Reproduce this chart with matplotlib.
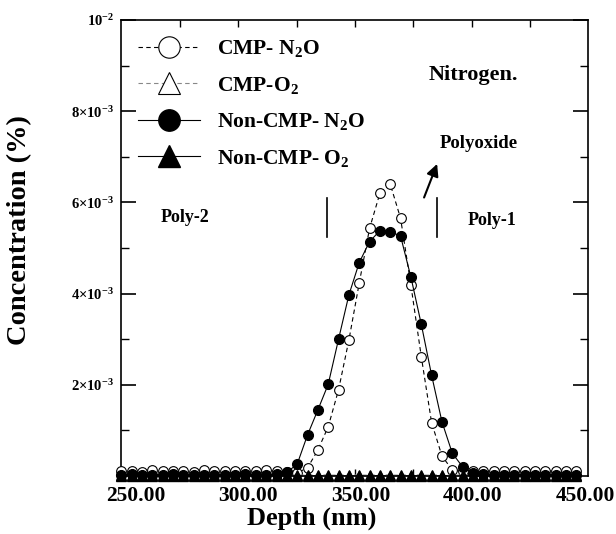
import matplotlib
matplotlib.use('Agg')
import matplotlib.pyplot as plt
import numpy as np

plt.rcParams['font.family'] = ['Liberation Serif', 'DejaVu Serif']
plt.rcParams['font.weight'] = 'bold'
plt.rcParams['mathtext.fontset'] = 'custom'
plt.rcParams['mathtext.rm'] = 'Liberation Serif:bold'
plt.rcParams['mathtext.bf'] = 'Liberation Serif:bold'
plt.rcParams['mathtext.it'] = 'Liberation Serif:bold:italic'

# depth grid (nm)
depth = [243.6, 248.2, 252.8, 257.4, 262.0, 266.6, 271.2, 275.8, 280.4, 285.0,
         289.6, 294.2, 298.8, 303.4, 308.0, 312.6, 317.2, 321.8, 326.4, 331.0,
         335.6, 340.2, 344.8, 349.4, 354.0, 358.6, 363.2, 367.8, 372.4, 377.0,
         381.6, 386.2, 390.8, 395.4, 400.0, 404.6, 409.2, 413.8, 418.4, 423.0,
         427.6, 432.2, 436.8, 441.4, 446.0]

# concentrations in units of 1e-3 %
cmp_n2o = [0.10, 0.12, 0.09, 0.13, 0.10, 0.11, 0.12, 0.09, 0.13, 0.10,
           0.11, 0.12, 0.10, 0.11, 0.13, 0.10, 0.09, 0.07, 0.18, 0.57,
           1.08, 1.89, 2.98, 4.23, 5.43, 6.20, 6.40, 5.65, 4.18, 2.62,
           1.17, 0.44, 0.13, 0.10, 0.11, 0.12, 0.10, 0.11, 0.12, 0.10,
           0.11, 0.12, 0.10, 0.11, 0.12]
cmp_o2 = [0.02, 0.03, 0.02, 0.02, 0.03, 0.02, 0.02, 0.03, 0.02, 0.02,
          0.03, 0.02, 0.02, 0.03, 0.02, 0.02, 0.03, 0.02, 0.02, 0.03,
          0.02, 0.02, 0.03, 0.02, 0.02, 0.03, 0.02, 0.02, 0.03, 0.02,
          0.02, 0.03, 0.02, 0.02, 0.03, 0.02, 0.02, 0.03, 0.02, 0.02,
          0.03, 0.02, 0.02, 0.03, 0.02]
non_cmp_n2o = [0.03, 0.04, 0.03, 0.02, 0.03, 0.04, 0.03, 0.02, 0.03, 0.03,
               0.02, 0.03, 0.04, 0.03, 0.03, 0.04, 0.08, 0.26, 0.90, 1.45,
               2.01, 3.00, 3.97, 4.68, 5.14, 5.38, 5.36, 5.26, 4.36, 3.33,
               2.21, 1.19, 0.50, 0.20, 0.06, 0.04, 0.03, 0.03, 0.02, 0.03,
               0.03, 0.02, 0.03, 0.03, 0.02]
non_cmp_o2 = [0.00, 0.01, 0.00, 0.01, 0.00, 0.01, 0.00, 0.01, 0.00, 0.01,
              0.00, 0.01, 0.00, 0.01, 0.00, 0.01, 0.00, 0.01, 0.00, 0.01,
              0.00, 0.01, 0.00, 0.01, 0.00, 0.01, 0.00, 0.01, 0.00, 0.01,
              0.00, 0.01, 0.00, 0.01, 0.00, 0.01, 0.00, 0.01, 0.00, 0.01,
              0.00, 0.01, 0.00, 0.01, 0.00]

x_ticks = [250, 300, 350, 400, 450]
x_labels = ['250.00', '300.00', '350.00', '400.00', '450.00']
x_minor = [269.5, 295.5, 321.5, 347.5, 373.5, 399.5, 425.5]
y_ticks = [0.002, 0.004, 0.006, 0.008, 0.010]
y_labels = [r'$\mathbf{2{\times}10^{-3}}$', r'$\mathbf{4{\times}10^{-3}}$',
            r'$\mathbf{6{\times}10^{-3}}$', r'$\mathbf{8{\times}10^{-3}}$',
            r'$\mathbf{10^{-2}}$']
y_minor = [0.001, 0.003, 0.005, 0.007, 0.009]

scale = 1e-3

fig = plt.figure(figsize=(6.16, 5.34), dpi=100)
ax = fig.add_axes([0.196, 0.1086, 0.759, 0.854])

ax.plot(depth, np.array(cmp_n2o) * scale, ls=(0, (4, 3)), color='black', lw=0.8,
        marker='o', ms=7, mfc='white', mec='black', mew=0.8,
        label=r'CMP- N$_\mathbf{2}$O', clip_on=False, zorder=3)
ax.plot(depth, np.array(cmp_o2) * scale, ls=(0, (4, 3)), color='#888888', lw=0.8,
        marker='^', ms=7, mfc='white', mec='black', mew=0.8,
        label=r'CMP-O$_\mathbf{2}$', clip_on=False, zorder=3)
ax.plot(depth, np.array(non_cmp_n2o) * scale, ls='-', color='black', lw=0.8,
        marker='o', ms=7, mfc='black', mec='black',
        label=r'Non-CMP- N$_\mathbf{2}$O', clip_on=False, zorder=4)
ax.plot(depth, np.array(non_cmp_o2) * scale, ls='-', color='black', lw=0.8,
        marker='^', ms=7, mfc='black', mec='black',
        label=r'Non-CMP- O$_\mathbf{2}$', clip_on=False, zorder=4)

ax.set_xlim(243.3, 451.3)
ax.set_ylim(0, 0.01)

ax.set_xticks(x_ticks)
ax.set_xticklabels(x_labels, fontsize=15.5, fontweight='bold')
ax.set_xticks(x_minor, minor=True)
ax.tick_params(axis='x', which='major', length=0, pad=7)
ax.tick_params(axis='x', which='minor', direction='in', length=5, width=1,
               top=True, bottom=True)

ax.set_yticks(y_ticks)
ax.set_yticklabels(y_labels, fontsize=10.5)
ax.set_yticks(y_minor, minor=True)
ax.tick_params(axis='y', which='major', direction='in', length=11, width=1.2,
               pad=5, right=True)
ax.tick_params(axis='y', which='minor', direction='in', length=6, width=1,
               right=True)

for s in ax.spines.values():
    s.set_linewidth(1.2)

ax.set_xlabel('Depth (nm)', fontsize=19, fontweight='bold')
ax.xaxis.set_label_coords(0.408, -0.066)
ax.set_ylabel('Concentration (%)', fontsize=20.5, fontweight='bold')
ax.yaxis.set_label_coords(-0.19, 0.54)

ax.legend(loc='upper left', bbox_to_anchor=(0.036, 0.96), frameon=False,
          fontsize=15.5, markerscale=2.2, handlelength=2.9, handletextpad=0.8,
          labelspacing=0.72, borderpad=0, borderaxespad=0)

ax.text(400, 0.0088, 'Nitrogen.', fontsize=16, fontweight='bold',
        ha='center', va='center')
ax.text(402.8, 0.0073, 'Polyoxide', fontsize=13.5, fontweight='bold',
        ha='center', va='center')
ax.text(408.6, 0.00561, 'Poly-1', fontsize=13, fontweight='bold',
        ha='center', va='center')
ax.text(271.8, 0.00566, 'Poly-2', fontsize=13, fontweight='bold',
        ha='center', va='center')
ax.plot([335.1, 335.1], [0.00524, 0.0061], color='black', lw=1.2)
ax.plot([384.1, 384.1], [0.00524, 0.0061], color='black', lw=1.2)
ax.annotate('', xy=(384.5, 0.0069), xytext=(377.8, 0.00605),
            arrowprops=dict(arrowstyle='-|>', color='black', lw=1.5,
                            mutation_scale=18))

fig.savefig('out.png', dpi=100)
